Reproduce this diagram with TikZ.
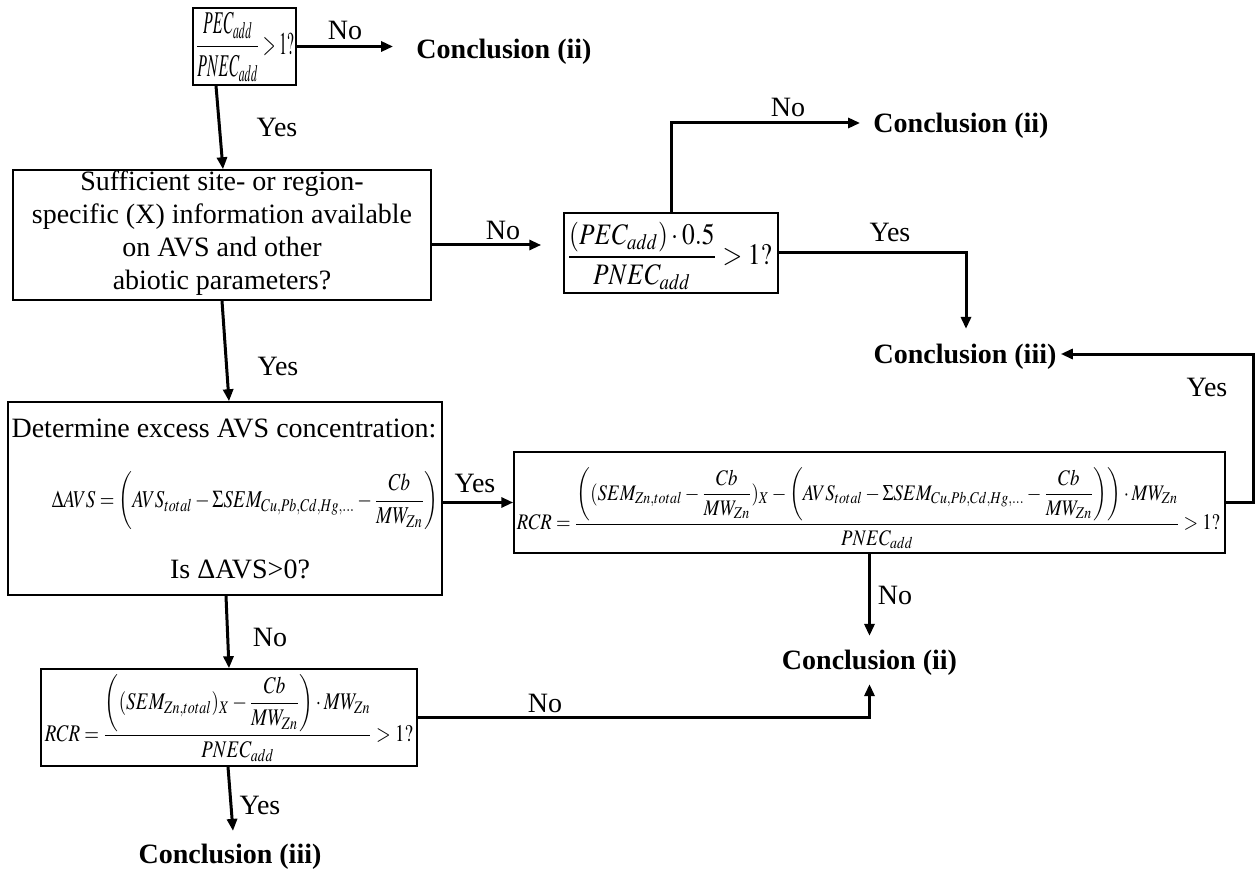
\documentclass[tikz,border=0pt]{standalone}
\usepackage{amsmath}
\usepackage{mathptmx}
\usepackage{graphicx}
\usepackage{fontspec}
\setmainfont{Liberation Serif}
\usetikzlibrary{arrows.meta}
\begin{document}
\begin{tikzpicture}[x=0.5pt,y=-0.5pt,
  every node/.style={font=\fontsize{14}{16.5}\selectfont},
  box/.style={draw, line width=0.75pt, inner sep=0pt, anchor=center},
  lbl/.style={inner sep=0pt},
  conc/.style={font=\fontsize{14}{16.5}\selectfont\bfseries, inner sep=0pt},
  conn/.style={line width=1.5pt, -{Triangle[length=6pt,width=5pt]}}]
\useasboundingbox (0,0) rectangle (1255,872);

% boxes
\node[box, minimum width=51.5pt, minimum height=38.5pt] (b1) at (244.5,46.5) {};
\node[box, minimum width=209pt, minimum height=65pt] (b2) at (222,235) {};
\node[box, minimum width=107pt, minimum height=40pt] (b3) at (671,253) {};
\node[box, minimum width=217pt, minimum height=96.5pt] (b4) at (225,498.5) {};
\node[box, minimum width=355.5pt, minimum height=50.5pt] (b5) at (869.5,502.5) {};
\node[box, minimum width=188pt, minimum height=48.5pt] (b6) at (229,717.5) {};

% contents
\node[inner sep=0pt] (f1) at (245,47) {\resizebox*{49pt}{35pt}{$\dfrac{PEC_{add}}{PNEC_{add}}>1?$}};
\node[align=center, inner sep=0pt] (t2) at (222,233) {Sufficient site- or region-\\specific (X) information available\\on AVS and other\\abiotic parameters?};
\node[inner sep=0pt] (f3) at (669.5,256) {\resizebox*{102.5pt}{34pt}{$\dfrac{(PEC_{add})\cdot 0.5}{PNEC_{add}}>1?$}};
\node[inner sep=0pt] (t4a) at (224,428) {Determine excess AVS concentration:};
\node[inner sep=0pt] (f4) at (245,501) {\resizebox*{193pt}{29pt}{$\Delta AVS=\left(AVS_{total}-\Sigma SEM_{Cu,Pb,Cd,Hg,\ldots}-\dfrac{Cb}{MW_{Zn}}\right)$}};
\node[inner sep=0pt] (t4b) at (240,569) {Is ΔAVS>0?};
\node[inner sep=0pt] (f5) at (868.5,508.5) {\resizebox*{351.5pt}{40.5pt}{$RCR=\dfrac{\left((SEM_{Zn,total}-\dfrac{Cb}{MW_{Zn}})_X-\left(AVS_{total}-\Sigma SEM_{Cu,Pb,Cd,Hg,\ldots}-\dfrac{Cb}{MW_{Zn}}\right)\right)\cdot MW_{Zn}}{PNEC_{add}}>1?$}};
\node[inner sep=0pt] (f6) at (229,718.5) {\resizebox*{184pt}{43.5pt}{$RCR=\dfrac{\left((SEM_{Zn,total})_X-\dfrac{Cb}{MW_{Zn}}\right)\cdot MW_{Zn}}{PNEC_{add}}>1?$}};

% conclusions
\node[conc] (c1) at (504,52) {Conclusion (ii)};
\node[conc] (c2) at (961,126) {Conclusion (ii)};
\node[conc] (c3) at (965,357) {Conclusion (iii)};
\node[conc] (c4) at (869.5,663) {Conclusion (ii)};
\node[conc] (c5) at (230,857) {Conclusion (iii)};

% labels
\node[lbl] (l1) at (345,30) {No};
\node[lbl] (l2) at (277,127) {Yes};
\node[lbl] (l3) at (503,230) {No};
\node[lbl] (l4) at (788,107) {No};
\node[lbl] (l5) at (890,232) {Yes};
\node[lbl] (l6) at (278,366) {Yes};
\node[lbl] (l7) at (475,483) {Yes};
\node[lbl] (l8) at (1207,387) {Yes};
\node[lbl] (l9) at (895,595) {No};
\node[lbl] (l10) at (270,637) {No};
\node[lbl] (l11) at (545,703) {No};
\node[lbl] (l12) at (260,805) {Yes};

% connectors
\draw[conn] (b1.east) -- ([xshift=-11.5pt,yshift=2.75pt]c1.west);
\draw[conn] ([xshift=-14.25pt]b1.south) -- ([xshift=0.5pt]b2.north);
\draw[conn] ([yshift=-5pt]b2.east) -- ([xshift=-11pt,yshift=4pt]b3.west);
\draw[conn] (b3.north) |- ([xshift=-6.5pt,yshift=1.5pt]c2.west);
\draw[conn] (b3.east) -| ([xshift=0.5pt,yshift=7.5pt]c3.north);
\draw[conn] (b2.south) -- ([xshift=2pt]b4.north);
\draw[conn] (b4.east |- b5.west) -- (b5.west);
\draw[conn] (b5.east) -- ++(28,0) |- ([xshift=2pt,yshift=1.5pt]c3.east);
\draw[conn] (b5.south) -- ([yshift=7pt]c4.north);
\draw[conn] (b6.east) -| ([yshift=-4pt]c4.south);
\draw[conn] ([xshift=0.5pt]b4.south) -- (b6.north);
\draw[conn] ([xshift=-0.5pt]b6.south) -- ([xshift=1.5pt,yshift=6.5pt]c5.north);
\end{tikzpicture}
\end{document}
